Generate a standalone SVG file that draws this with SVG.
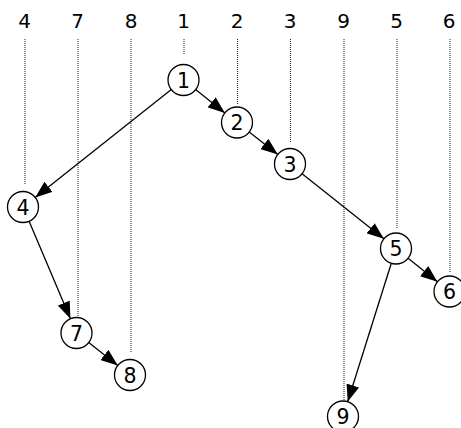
<svg xmlns="http://www.w3.org/2000/svg" width="461" height="428" viewBox="0 0 461 428">
<style>
.lbl{font-family:"DejaVu Sans",sans-serif;font-size:20px;fill:#000;text-anchor:middle}
.nl{font-family:"DejaVu Sans",sans-serif;font-size:20.5px;fill:#000;text-anchor:middle}
.dot{stroke:#222;stroke-width:1;stroke-dasharray:1,1;fill:none}
.node circle{fill:#fff;stroke:#000;stroke-width:1.3}
.edge{stroke:#000;stroke-width:1.3;fill:none;marker-end:url(#arr)}
</style>
<defs>
<marker id="arr" markerUnits="userSpaceOnUse" markerWidth="18" markerHeight="13" refX="17" refY="6.5" orient="auto">
<path d="M0,0 L17,6.5 L0,13 Z" fill="#000"/>
</marker>
</defs>
<rect width="461" height="428" fill="#fff"/>
<g id="header">
<text class="lbl" x="24.5" y="27.5">4</text>
<text class="lbl" x="77.5" y="27.5">7</text>
<text class="lbl" x="131" y="27.5">8</text>
<text class="lbl" x="183.5" y="27.5">1</text>
<text class="lbl" x="237" y="27.5">2</text>
<text class="lbl" x="290" y="27.5">3</text>
<text class="lbl" x="343.5" y="27.5">9</text>
<text class="lbl" x="396.5" y="27.5">5</text>
<text class="lbl" x="449" y="27.5">6</text>
</g>
<g id="guides">
<line class="dot" x1="25" y1="39" x2="25" y2="185"/>
<line class="dot" x1="78" y1="39" x2="78" y2="316"/>
<line class="dot" x1="131" y1="39" x2="131" y2="353"/>
<line class="dot" x1="184" y1="39" x2="184" y2="55"/>
<line class="dot" x1="237.5" y1="39" x2="237.5" y2="105"/>
<line class="dot" x1="290.5" y1="39" x2="290.5" y2="143"/>
<line class="dot" x1="344" y1="39" x2="344" y2="401"/>
<line class="dot" x1="397" y1="39" x2="397" y2="228"/>
<line class="dot" x1="450" y1="39" x2="450" y2="272"/>
</g>
<g id="connectors">
<line class="edge" x1="195.6" y1="89.6" x2="224.9" y2="112.9"/>
<line class="edge" x1="171.3" y1="89.6" x2="35.2" y2="197.4"/>
<line class="edge" x1="249.2" y1="132.1" x2="277.8" y2="154.4"/>
<line class="edge" x1="302.1" y1="173.7" x2="383.9" y2="238.8"/>
<line class="edge" x1="29.1" y1="221.3" x2="70.4" y2="318.7"/>
<line class="edge" x1="88.7" y1="342.6" x2="117.8" y2="365.4"/>
<line class="edge" x1="408.1" y1="258.2" x2="437.4" y2="281.8"/>
<line class="edge" x1="391.3" y1="263.3" x2="347.7" y2="401.7"/>
</g>
<g id="n1" class="node"><circle cx="183.5" cy="80" r="15.5"/><text class="nl" x="183.5" y="87.5">1</text></g>
<g id="n2" class="node"><circle cx="237" cy="122.5" r="15.5"/><text class="nl" x="237" y="130">2</text></g>
<g id="n3" class="node"><circle cx="290" cy="164" r="15.5"/><text class="nl" x="290" y="171.5">3</text></g>
<g id="n4" class="node"><circle cx="23" cy="207" r="15.5"/><text class="nl" x="23" y="214.5">4</text></g>
<g id="n5" class="node"><circle cx="396" cy="248.5" r="15.5"/><text class="nl" x="396" y="256">5</text></g>
<g id="n6" class="node"><circle cx="449.5" cy="291.5" r="15.5"/><text class="nl" x="449.5" y="299">6</text></g>
<g id="n7" class="node"><circle cx="76.5" cy="333" r="15.5"/><text class="nl" x="76.5" y="340.5">7</text></g>
<g id="n8" class="node"><circle cx="130" cy="375" r="15.5"/><text class="nl" x="130" y="382.5">8</text></g>
<g id="n9" class="node"><circle cx="343" cy="416.5" r="15.5"/><text class="nl" x="343" y="424">9</text></g>
</svg>
